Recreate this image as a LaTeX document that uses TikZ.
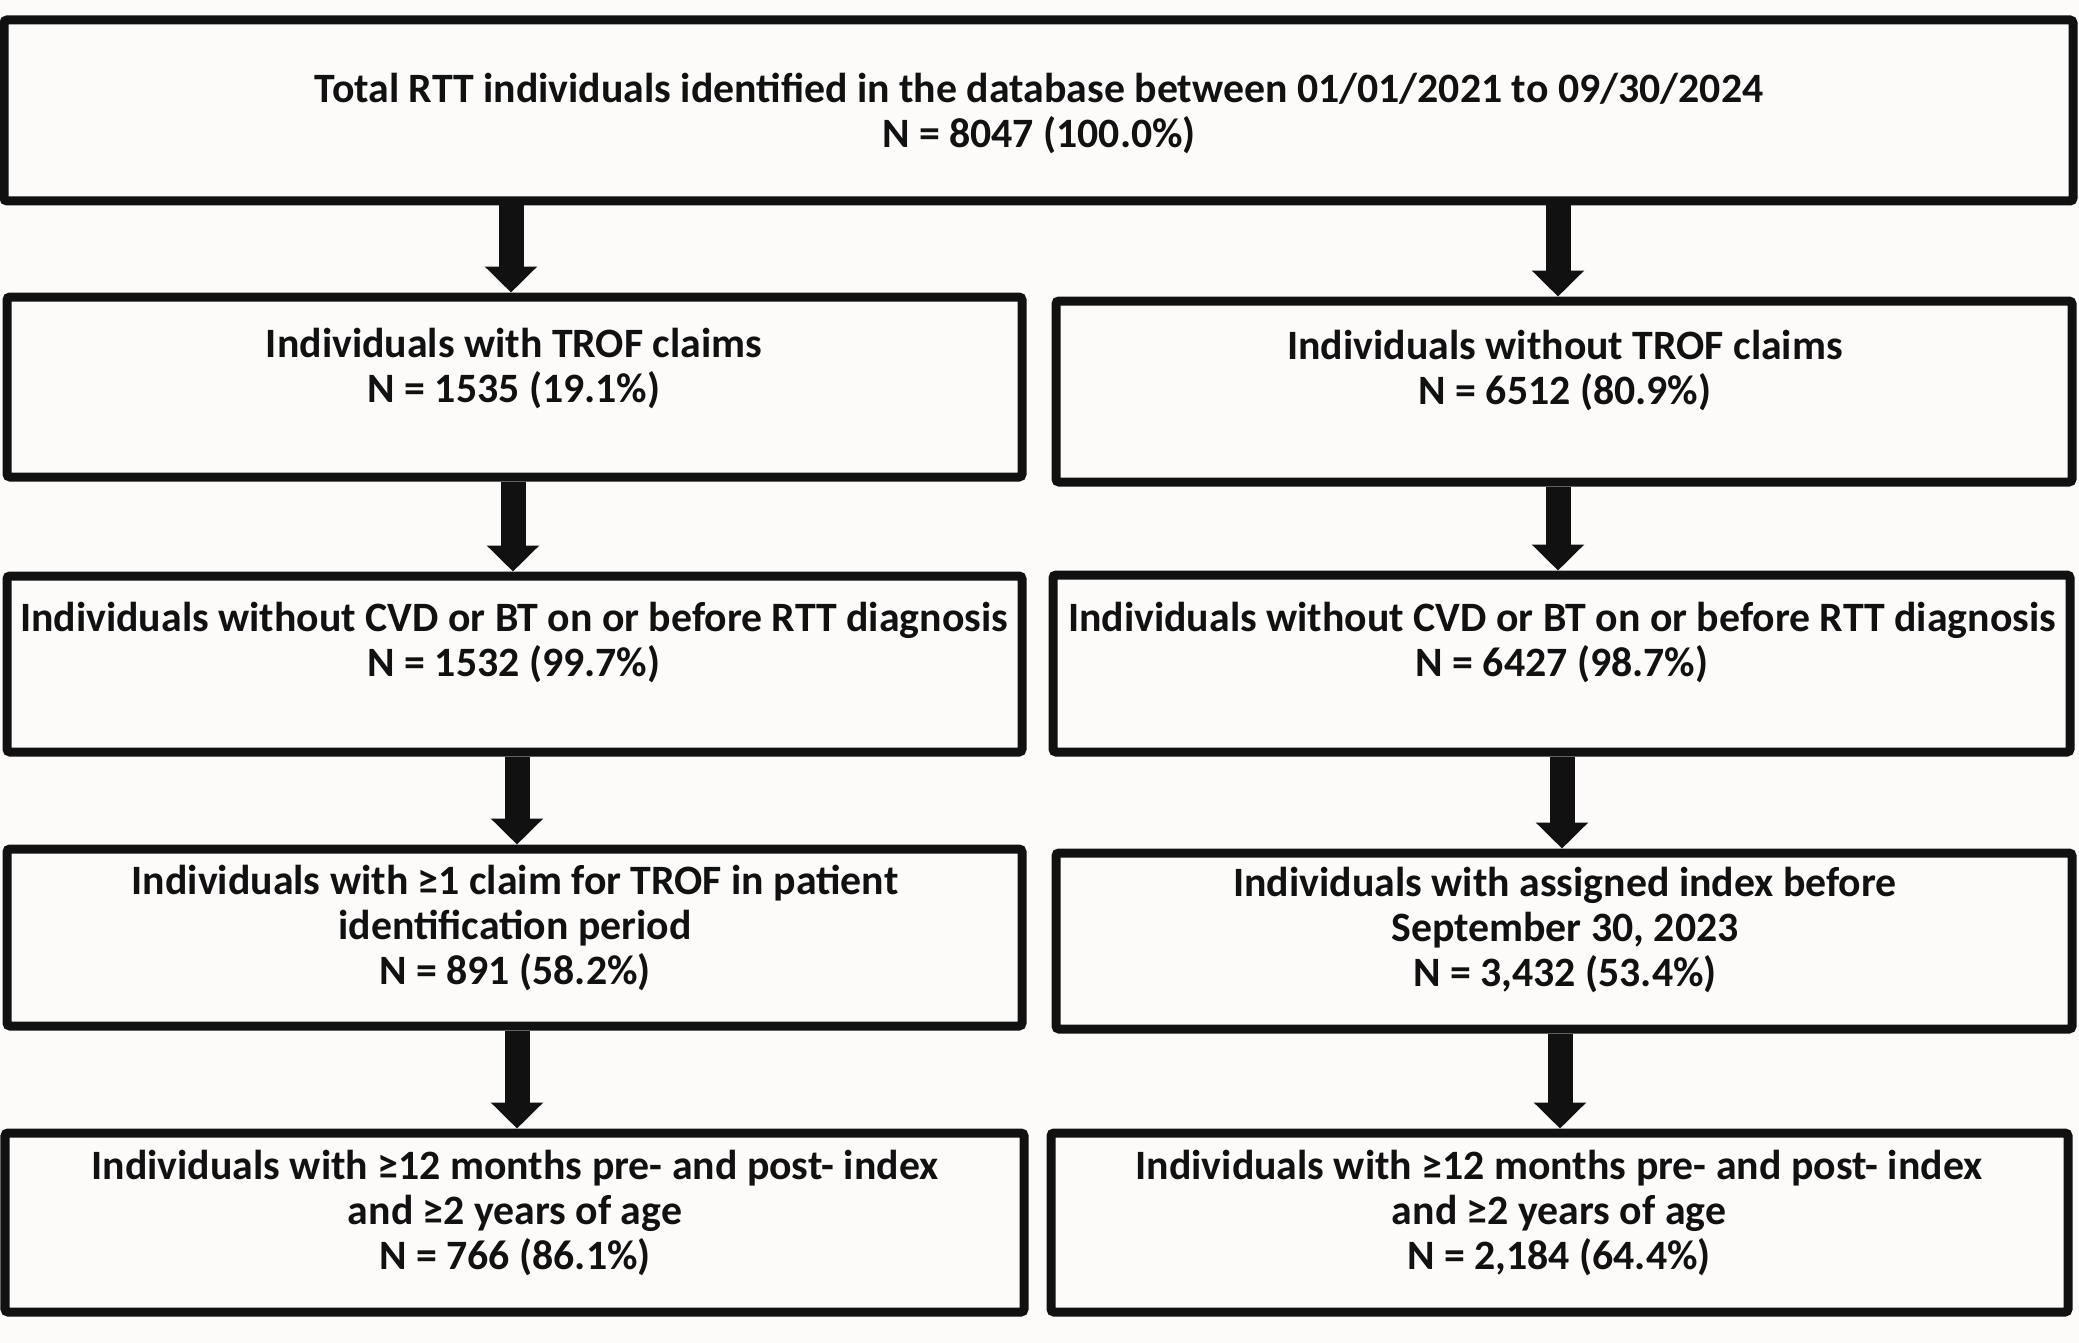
\documentclass[tikz,border=0pt]{standalone}
\usepackage{fontspec}
\setmainfont{Carlito}
\usetikzlibrary{arrows.meta}
\definecolor{bg}{RGB}{253,251,250}
\definecolor{ink}{RGB}{17,17,17}
\tikzset{
  box/.style={draw=ink, line width=4.5pt, rounded corners=1.5pt, rectangle, inner sep=0pt},
  txt/.style={align=center, inner sep=0pt, anchor=north, text=ink,
    font=\fontsize{20.9}{22.5}\selectfont\bfseries},
  flow/.style={draw=ink, line width=12.5pt, -{Triangle[width=25.5pt,length=13pt,fill=ink]}},
}
\begin{document}
\begin{tikzpicture}[x=0.5pt,y=-0.5pt]
\fill[bg] (0,0) rectangle (2079,1343);
\useasboundingbox (0,0) rectangle (2079,1343);

\node[box, minimum width=1034.5pt, minimum height=90.5pt] (bT) at (1038.5,110.5) {};
\node[box, minimum width=507.5pt, minimum height=90pt] (bL2) at (514.5,387) {};
\node[box, minimum width=508pt, minimum height=90.5pt] (bR2) at (1564,391.5) {};
\node[box, minimum width=507.5pt, minimum height=88pt] (bL3) at (514.5,664) {};
\node[box, minimum width=508.5pt, minimum height=88.5pt] (bR3) at (1561.5,663.5) {};
\node[box, minimum width=507.5pt, minimum height=88.5pt] (bL4) at (514.5,937.5) {};
\node[box, minimum width=508pt, minimum height=88pt] (bR4) at (1564,941) {};
\node[box, minimum width=509.5pt, minimum height=89.5pt] (bL5) at (514.5,1222.5) {};
\node[box, minimum width=508.5pt, minimum height=89.5pt] (bR5) at (1559.5,1222.5) {};

\node[txt] (tT) at (1039,73) {Total RTT individuals identified in the database between 01/01/2021 to 09/30/2024\\N = 8047 (100.0\%)};
\node[txt] (tL2) at (514,328) {Individuals with TROF claims\\N = 1535 (19.1\%)};
\node[txt] (tR2) at (1565,330) {Individuals without TROF claims\\N = 6512 (80.9\%)};
\node[txt] (tL3) at (514,602) {Individuals without CVD or BT on or before RTT diagnosis\\N = 1532 (99.7\%)};
\node[txt] (tR3) at (1562,602) {Individuals without CVD or BT on or before RTT diagnosis\\N = 6427 (98.7\%)};
\node[txt] (tL4) at (515,865) {Individuals with ≥1 claim for TROF in patient\\identification period\\N = 891 (58.2\%)};
\node[txt] (tR4) at (1565,867) {Individuals with assigned index before\\September 30, 2023\\N = 3,432 (53.4\%)};
\node[txt] (tL5) at (515,1150) {Individuals with ≥12 months pre- and post- index\\and ≥2 years of age\\N = 766 (86.1\%)};
\node[txt] (tR5) at (1559,1150) {Individuals with ≥12 months pre- and post- index\\and ≥2 years of age\\N = 2,184 (64.4\%)};

\coordinate (x1L) at (511,0);
\coordinate (x1R) at (1558,0);
\coordinate (x2L) at (513,0);
\coordinate (x2R) at (1558,0);
\coordinate (x3L) at (517,0);
\coordinate (x3R) at (1562,0);
\coordinate (x4L) at (517,0);
\coordinate (x4R) at (1560,0);

\draw[flow] (bT.south -| x1L) -- (bL2.north -| x1L);
\draw[flow] (bT.south -| x1R) -- (bR2.north -| x1R);
\draw[flow] (bL2.south -| x2L) -- (bL3.north -| x2L);
\draw[flow] (bR2.south -| x2R) -- (bR3.north -| x2R);
\draw[flow] (bL3.south -| x3L) -- (bL4.north -| x3L);
\draw[flow] (bR3.south -| x3R) -- (bR4.north -| x3R);
\draw[flow] (bL4.south -| x4L) -- (bL5.north -| x4L);
\draw[flow] (bR4.south -| x4R) -- (bR5.north -| x4R);
\end{tikzpicture}
\end{document}
